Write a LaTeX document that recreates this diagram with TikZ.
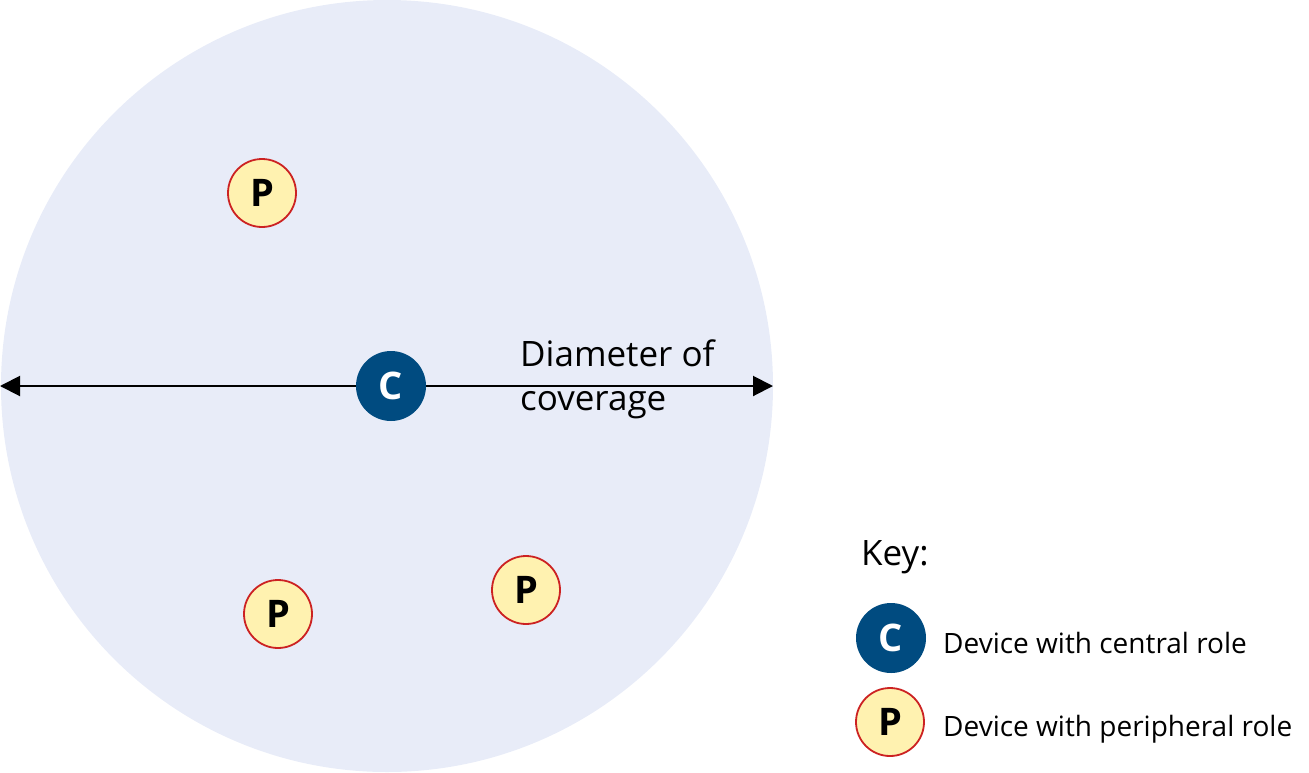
\documentclass[tikz,border=0pt]{standalone}
\usepackage{fontspec}
\setmainfont{Open Sans}
\usetikzlibrary{arrows.meta}
\definecolor{bg}{RGB}{232,236,248}
\definecolor{cblue}{RGB}{0,75,128}
\definecolor{pyel}{RGB}{255,242,176}
\definecolor{pred}{RGB}{204,34,34}
\begin{document}
\begin{tikzpicture}[x=1pt,y=-1pt,
  cdev/.style={circle,fill=cblue,minimum size=70pt,inner sep=0pt,text=white,font=\fontsize{38}{38}\selectfont\bfseries},
  pdev/.style={circle,fill=pyel,draw=pred,line width=1.8pt,minimum size=68pt,inner sep=0pt,font=\fontsize{38}{38}\selectfont\bfseries},
  lbl/.style={font=\fontsize{28}{36}\selectfont,anchor=west,inner sep=0pt}]
\useasboundingbox (0,0) rectangle (1309,772);
\fill[bg] (387,386) circle (386);
\coordinate (L) at (0,386);
\coordinate (R) at (773,386);
\draw[line width=2pt,{Triangle[length=20pt,width=20pt]}-{Triangle[length=20pt,width=20pt]}] (L) -- (R);
\node[cdev] (c) at (391,386) {C};
\node[pdev] (p1) at (262,193) {P};
\node[pdev] (p2) at (278,614) {P};
\node[pdev] (p3) at (526,590) {P};
\node[font=\fontsize{35}{44}\selectfont,inner sep=0pt,align=left,anchor=north west] (d) at (520,340) {Diameter of\\coverage};
\node[lbl,font=\fontsize{35}{36}\selectfont] (key) at (861,557) {Key:};
\node[cdev] (kc) at (891,638) {C};
\node[pdev] (kp) at (890,722) {P};
\node[lbl] (tc) at (943,643) {Device with central role};
\node[lbl] (tp) at (943,729) {Device with peripheral role};
\end{tikzpicture}
\end{document}
